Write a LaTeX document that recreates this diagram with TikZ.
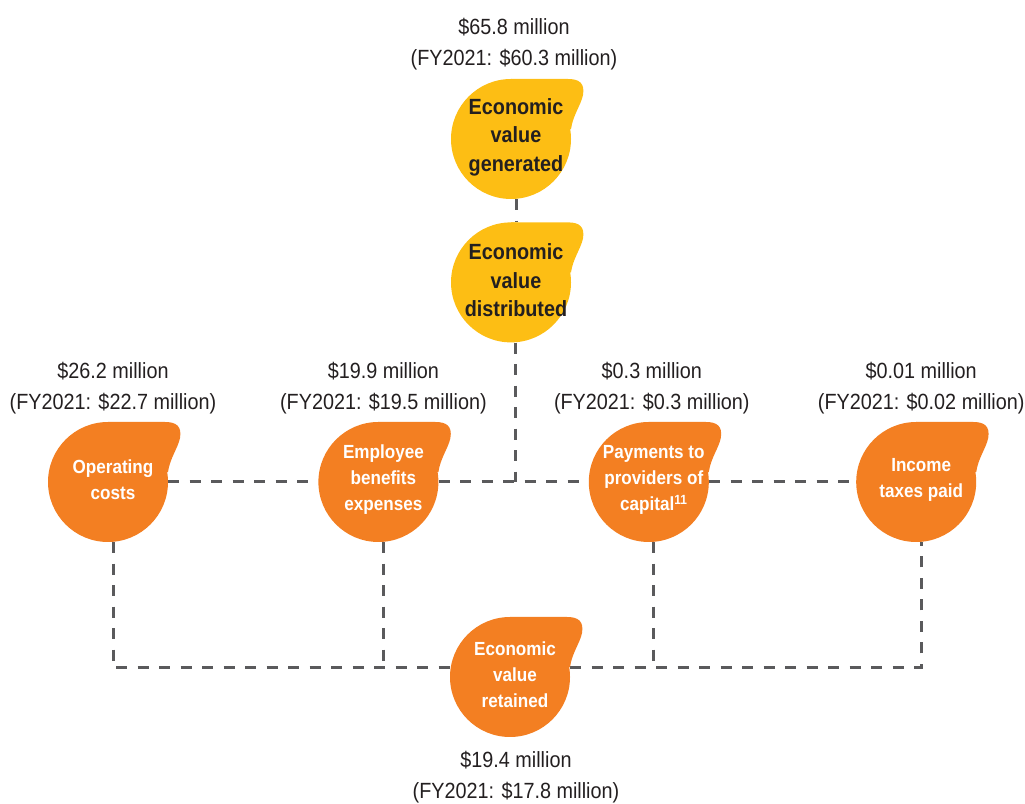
\documentclass[tikz,border=0pt]{standalone}
\usepackage{fontspec}
\setmainfont{Liberation Sans}[FakeStretch=0.9]
\usetikzlibrary{positioning, backgrounds}
\definecolor{evYellow}{RGB}{253,190,20}
\definecolor{evOrange}{RGB}{243,127,34}
\definecolor{evText}{RGB}{35,31,32}
\definecolor{evLine}{RGB}{90,90,92}

\begin{document}
\begin{tikzpicture}[
    x=1pt, y=1pt,
    blob/.style={
        circle,
        inner sep=0pt,
        minimum size=120pt
    },
    gold/.style={
        blob,
        fill=evYellow,
        label={[inner sep=0pt, align=center, text=evText, xshift=5pt, yshift=2pt,
                font=\fontsize{22}{28.5}\selectfont\bfseries]center:#1}
    },
    ember/.style={
        blob,
        fill=evOrange,
        label={[inner sep=0pt, align=center, text=white, xshift=5pt, yshift=2pt,
                font=\fontsize{19}{26}\selectfont\bfseries]center:#1}
    },
    fig/.style={
        align=center,
        inner sep=0pt,
        text=evText,
        font=\fontsize{22}{31}\selectfont
    },
    link/.style={
        draw=evLine,
        line width=3pt,
        dash pattern=on 11pt off 10.5pt
    }
]
    \useasboundingbox (0,0) rectangle (1025,803);

    % value bubbles
    \node[gold={Economic\\value\\generated}] (gen) at (511,664) {};
    \node[gold={Economic\\value\\distributed}, below=23pt of gen] (dist) {};
    \node[ember={Operating\\costs}] (op) at (108,321) {};
    \node[ember={Employee\\benefits\\expenses}, right=150pt of op] (emp) {};
    \node[ember={Payments to\\providers of\\capital\textsuperscript{11}}, right=150pt of emp] (pay) {};
    \node[ember={Income\\taxes paid}, right=147pt of pay] (inc) {};
    \node[ember={Economic\\value\\retained}] (ret) at (510,126) {};

    % amounts
    \node[fig, above=9pt of gen, xshift=3pt] (genfig) {\$65.8 million\\(FY2021: \$60.3 million)};
    \node[fig, above=8pt of op, xshift=5pt] (opfig) {\$26.2 million\\(FY2021: \$22.7 million)};
    \node[fig, above=8pt of emp, xshift=5pt] (empfig) {\$19.9 million\\(FY2021: \$19.5 million)};
    \node[fig, above=8pt of pay, xshift=3pt] (payfig) {\$0.3 million\\(FY2021: \$0.3 million)};
    \node[fig, above=8pt of inc, xshift=5pt] (incfig) {\$0.01 million\\(FY2021: \$0.02 million)};
    \node[fig, below=14pt of ret, xshift=6pt] (retfig) {\$19.4 million\\(FY2021: \$17.8 million)};

    \begin{scope}[on background layer]
        \coordinate (hubtop) at ([xshift=4pt]dist.south);
        \coordinate (hub) at (hubtop |- emp.center);
        \coordinate (opdown) at ([xshift=5pt]op.south);
        \coordinate (empdown) at ([xshift=5pt]emp.south);
        \coordinate (paydown) at ([xshift=5pt]pay.south);
        \coordinate (incdown) at ([xshift=5pt]inc.south);
        \coordinate (retin) at ([yshift=9pt]ret.west);
        \coordinate (retout) at ([yshift=9pt]ret.east);

        \draw[link] ([xshift=5pt]gen.south) -- ([xshift=5pt]dist.north);
        \draw[link] (hubtop) -- (hub);
        \draw[link] (op) -- (emp);
        \draw[link] (emp) -- (pay);
        \draw[link] (pay) -- (inc);
        \draw[link] (opdown) |- (retin);
        \draw[link] (empdown) -- (empdown |- retin);
        \draw[link] (retout) -| (incdown);
        \draw[link] (paydown) -- (paydown |- retout);

        % pointed corner of each bubble
        \foreach \n/\c in {gen/evYellow, dist/evYellow, op/evOrange, emp/evOrange,
                           pay/evOrange, inc/evOrange, ret/evOrange}
            \fill[\c, shift={(\n.center)}] (0,60) -- (57,60)
                .. controls (68,60) and (74,56) .. (72,44)
                .. controls (70,34) and (62,24) .. (60,10) -- (0,0) -- cycle;
    \end{scope}
\end{tikzpicture}
\end{document}
